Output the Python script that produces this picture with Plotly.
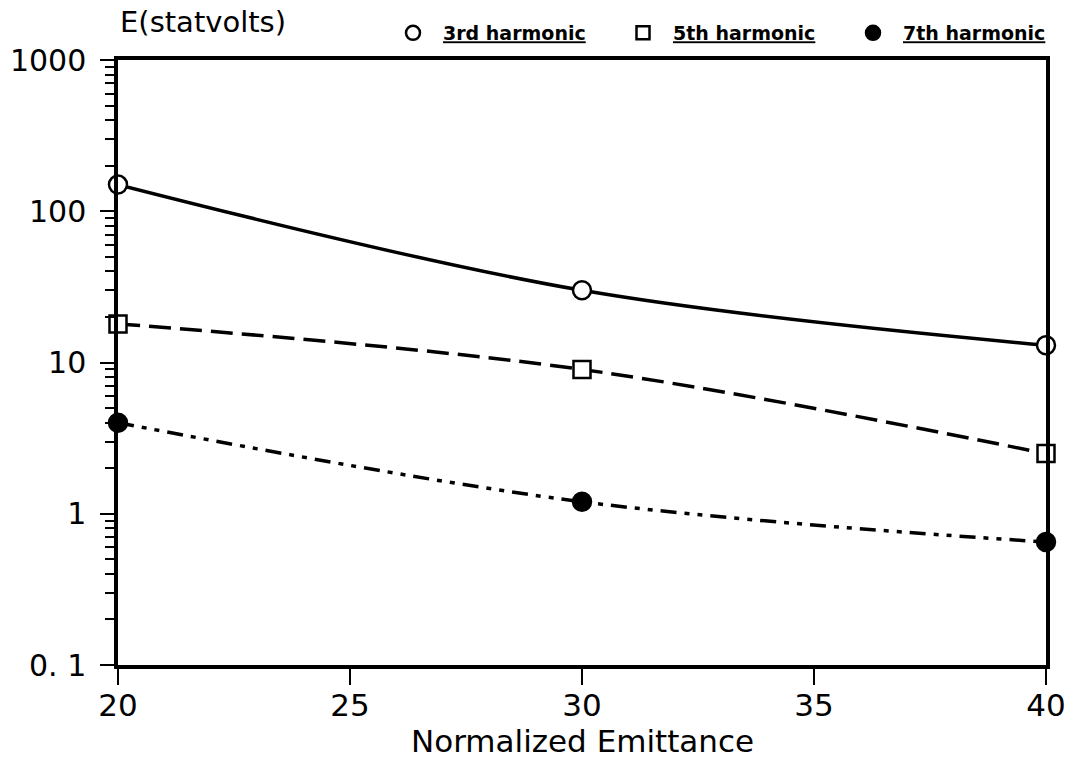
import plotly.graph_objects as go

emittance = [20, 30, 40]
h3 = [150, 30, 13]
h5 = [18, 9, 2.5]
h7 = [4, 1.2, 0.65]
y_tickvals = [0.1, 1, 10, 100, 1000]
y_ticktext = ["0. 1", "1", "10", "100", "1000"]
x_tickvals = [20, 25, 30, 35, 40]

FONT = "'DejaVu Sans', sans-serif"

fig = go.Figure()

series = [
    ("3rd harmonic", h3, "solid", "circle", "white"),
    ("5th harmonic", h5, "22px,9px", "square", "white"),
    ("7th harmonic", h7, "16px,8px,5px,8px,5px,8px", "circle", "black"),
]

for name, ys, dash, msym, fill in series:
    fig.add_trace(go.Scatter(
        x=emittance, y=ys, mode="lines",
        line=dict(color="black", width=3.5, dash=dash, shape="spline", smoothing=1.0),
        showlegend=False, cliponaxis=False, hoverinfo="skip"))
    fig.add_trace(go.Scatter(
        x=emittance, y=ys, mode="markers",
        marker=dict(symbol=msym, size=18 if msym == "circle" else 17, color=fill,
                    line=dict(color="black", width=2.5)),
        showlegend=False, cliponaxis=False, name=name))
    fig.add_trace(go.Scatter(
        x=[None], y=[None], mode="markers", name="<b><u>" + name + "</u></b>",
        marker=dict(symbol=msym, size=14 if msym == "circle" else 13, color=fill,
                    line=dict(color="black", width=2.5)),
        showlegend=True))

fig.update_layout(
    width=1068, height=760,
    paper_bgcolor="white", plot_bgcolor="white",
    margin=dict(l=118, r=22, t=60, b=95, autoexpand=False),
    font=dict(family=FONT, color="black"),
    legend=dict(orientation="h", x=1.0291, xanchor="right", y=1.0446, yanchor="middle",
                font=dict(size=19, family=FONT), bgcolor="rgba(0,0,0,0)",
                entrywidth=165, entrywidthmode="pixels", itemwidth=50,
                tracegroupgap=0),
    annotations=[
        dict(text="E(statvolts)", x=0.0, xref="paper", xanchor="left",
             y=1.0, yref="paper", yanchor="middle", yshift=38,
             showarrow=False, font=dict(size=29, family=FONT)),
        dict(text="Normalized Emittance", x=0.5, xref="paper", xanchor="center",
             y=0.0, yref="paper", yanchor="middle", yshift=-76,
             showarrow=False, font=dict(size=31, family=FONT)),
    ],
)

fig.update_xaxes(
    range=[20, 40], tickvals=x_tickvals, ticks="outside", ticklen=16, tickwidth=2,
    tickcolor="black", showline=True, linewidth=3.5, linecolor="black", mirror=True,
    showgrid=False, zeroline=False, tickfont=dict(size=31, family=FONT),
    ticklabelstandoff=-6, automargin=False)

fig.update_yaxes(
    type="log", range=[-1, 3], tickvals=y_tickvals, ticktext=y_ticktext,
    ticks="outside", ticklen=14, tickwidth=2, tickcolor="black",
    minor=dict(ticks="outside", ticklen=9, tickwidth=2, tickcolor="black", dtick="D1", showgrid=False),
    showline=True, linewidth=3.5, linecolor="black", mirror=True,
    showgrid=False, zeroline=False, tickfont=dict(size=30, family=FONT),
    ticklabelstandoff=8, automargin=False)

fig.write_html("out.html", config={"displayModeBar": False},
               post_script="document.body.style.margin='0px';")
